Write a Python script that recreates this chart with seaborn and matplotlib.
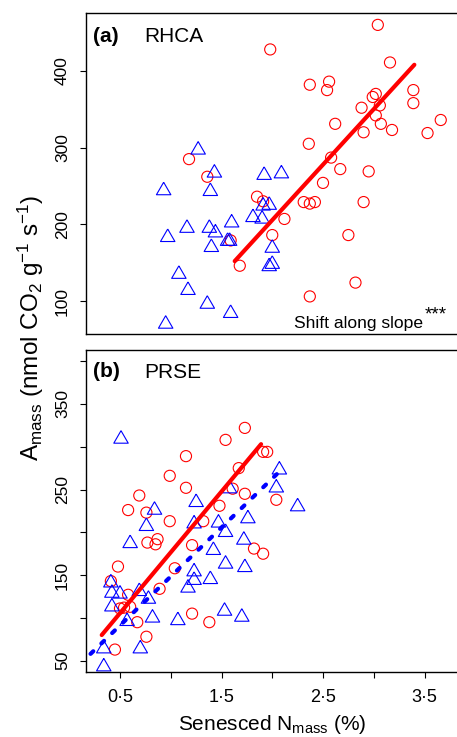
import matplotlib
matplotlib.use("Agg")
import matplotlib.pyplot as plt
import seaborn as sns
import pandas as pd

# (a) RHCA: red circles, blue triangles, fitted line for circles
rhca_circ_n = [3.04, 1.98, 3.16, 2.37, 2.56, 2.54, 3.39, 3.39, 3.02, 2.99,
               3.06, 2.88, 3.02, 2.62, 3.07, 2.90, 3.18, 3.53, 3.66, 2.36,
               1.18, 2.58, 2.67, 2.95, 2.50, 1.36, 1.85, 1.91, 2.31, 2.37,
               2.42, 2.90, 2.12, 2.00, 2.75, 1.59, 1.68, 2.82, 2.37]
rhca_circ_a = [460, 428, 411, 382, 386, 375, 375, 358, 370, 366,
               355, 352, 342, 331, 331, 320, 323, 319, 336, 305,
               285, 287, 272, 269, 254, 262, 236, 230, 229, 227,
               229, 229, 207, 186, 186, 179, 146, 124, 106]
rhca_tri_n = [1.27, 1.43, 1.92, 2.09, 0.93, 1.39, 1.97, 1.91, 1.81, 1.90,
              1.16, 1.38, 1.44, 1.60, 0.97, 1.56, 1.58, 1.40, 2.00, 2.00,
              1.97, 1.08, 1.17, 1.36, 1.59, 0.95]
rhca_tri_a = [297, 267, 264, 266, 244, 243, 225, 224, 209, 207,
              195, 195, 189, 202, 183, 178, 178, 170, 169, 148,
              145, 135, 114, 96, 84, 70]
rhca_fit_n = [1.63, 3.40]
rhca_fit_a = [152, 408]

# (b) PRSE
prse_circ_n = [1.73, 1.54, 1.15, 0.99, 1.15, 0.69, 0.58, 0.76, 0.99, 1.67,
               1.91, 1.95, 1.61, 1.73, 2.04, 1.48, 1.32, 0.77, 0.87, 0.85,
               1.21, 1.82, 1.91, 0.48, 1.04, 0.41, 0.89, 0.58, 0.50, 0.54,
               0.60, 0.67, 1.21, 1.38, 0.76, 0.45]
prse_circ_a = [322, 308, 289, 266, 252, 243, 226, 223, 213, 275,
               294, 294, 251, 245, 238, 231, 213, 188, 192, 186,
               185, 181, 175, 160, 158, 143, 134, 127, 111, 112,
               113, 95, 105, 95, 78, 63]
prse_tri_n = [0.51, 2.07, 2.04, 2.25, 1.58, 1.25, 0.84, 0.76, 1.76, 1.47,
              1.23, 1.54, 1.72, 0.60, 1.42, 1.54, 1.73, 1.23, 1.23, 1.39,
              1.17, 0.41, 0.42, 0.50, 0.69, 0.78, 0.42, 0.57, 0.82, 1.07,
              1.53, 1.70, 0.34, 0.70, 0.34]
prse_tri_a = [309, 273, 252, 230, 251, 235, 226, 207, 216, 211,
              210, 200, 191, 187, 179, 163, 159, 154, 144, 145,
              135, 141, 129, 128, 131, 122, 113, 96, 100, 97,
              108, 101, 64, 64, 43]
prse_fit_circ_n = [0.32, 1.89]
prse_fit_circ_a = [80, 303]
prse_fit_tri_n = [0.21, 2.08]
prse_fit_tri_a = [58, 272]

x_ticks = [0.5, 1.0, 1.5, 2.0, 2.5, 3.0, 3.5]
x_tick_labels = ["0·5", "", "1·5", "", "2·5", "", "3·5"]
a_ticks = [100, 200, 300, 400]
b_ticks = [50, 100, 150, 200, 250, 300, 350, 400]
b_tick_labels = ["50", "", "150", "", "250", "", "350", ""]

sns.set_style("white")
plt.rcParams["font.family"] = ["Liberation Sans", "DejaVu Sans"]
plt.rcParams["mathtext.fontset"] = "custom"
plt.rcParams["mathtext.rm"] = "Liberation Sans"
plt.rcParams["mathtext.it"] = "Liberation Sans:italic"
plt.rcParams["mathtext.bf"] = "Liberation Sans:bold"
plt.rcParams["text.color"] = "black"
plt.rcParams["xtick.color"] = "black"
plt.rcParams["ytick.color"] = "black"
plt.rcParams["axes.labelcolor"] = "black"

RED = "#ff0000"
BLUE = "#0000ff"
# R pch=2 style triangle, centred on its centroid
tri = [(0, 1.555), (1.347, -0.778), (-1.347, -0.778), (0, 1.555)]

fig = plt.figure(figsize=(4.57, 7.37), dpi=100, facecolor="white")
W, H = 457, 737
ax_a = fig.add_axes([86 / W, 1 - 334 / H, 380 / W, 321 / H])
ax_b = fig.add_axes([86 / W, 1 - 672 / H, 380 / W, 322 / H])


def draw_points(ax, cn, ca, tn, ta):
    sns.scatterplot(x=cn, y=ca, ax=ax, marker="o", s=8.0 ** 2,
                    facecolor="none", edgecolor=RED, linewidth=0.8,
                    clip_on=False)
    sns.scatterplot(x=tn, y=ta, ax=ax, marker=tri, s=12.0 ** 2,
                    facecolor="none", edgecolor=BLUE, linewidth=0.8,
                    clip_on=False)


draw_points(ax_a, rhca_circ_n, rhca_circ_a, rhca_tri_n, rhca_tri_a)
sns.lineplot(x=rhca_fit_n, y=rhca_fit_a, ax=ax_a, color=RED, lw=3,
             estimator=None, sort=False)

draw_points(ax_b, prse_circ_n, prse_circ_a, prse_tri_n, prse_tri_a)
sns.lineplot(x=prse_fit_circ_n, y=prse_fit_circ_a, ax=ax_b, color=RED, lw=3,
             estimator=None, sort=False)
# dashed fit for the triangles (short rounded dashes)
ax_b.plot(prse_fit_tri_n, prse_fit_tri_a, color=BLUE, lw=3.0,
          linestyle=(0, (0.9, 2.7)), dash_capstyle="round")

xmax = 0.5 + (466 - 120) / 101.5
for ax in (ax_a, ax_b):
    ax.set_xlim(0.165, xmax)
    ax.set_xlabel("")
    ax.set_ylabel("")
    for side in ("left", "top", "bottom", "right"):
        ax.spines[side].set_color("black")
        ax.spines[side].set_linewidth(1.0)
    ax.tick_params(axis="y", direction="out", length=4.5, width=0.8,
                   labelsize=12.5, pad=7, labelrotation=90, left=True,
                   colors="black")
    ax.set_xticks(x_ticks)

ax_a.set_ylim(57, 475.5)
ax_a.set_yticks(a_ticks)
ax_a.tick_params(axis="x", bottom=False, labelbottom=False)

ax_b.set_ylim(36.8, 413)
ax_b.set_yticks(b_ticks)
ax_b.set_yticklabels(b_tick_labels)
ax_b.set_xticklabels(x_tick_labels)
ax_b.tick_params(axis="x", direction="out", length=4.5, width=0.8,
                 labelsize=13, pad=8, bottom=True, colors="black")
for lab in ax_a.get_yticklabels() + ax_b.get_yticklabels():
    lab.set_va("center")

# panel titles
ax_a.text(93 / W, 1 - 36 / H, "(a)", transform=fig.transFigure,
          fontsize=15, fontweight="bold", va="center", ha="left")
ax_a.text(144 / W, 1 - 36 / H, "RHCA", transform=fig.transFigure,
          fontsize=15, va="center", ha="left")
ax_b.text(93 / W, 1 - 371 / H, "(b)", transform=fig.transFigure,
          fontsize=15, fontweight="bold", va="center", ha="left")
ax_b.text(144 / W, 1 - 372 / H, "PRSE", transform=fig.transFigure,
          fontsize=15, va="center", ha="left")

ax_a.text(294 / W, 1 - 328 / H, "Shift along slope", transform=fig.transFigure,
          fontsize=12.6, va="baseline", ha="left")
ax_a.text(425 / W, 1 - 319 / H, "***", transform=fig.transFigure,
          fontsize=13.5, va="baseline", ha="left")

fig.text(272 / W, 1 - 724 / H, r"Senesced N$_{\mathrm{mass}}$ (%)",
         fontsize=15, ha="center", va="center")
fig.text(31 / W, 1 - 328 / H,
         r"A$_{\mathrm{mass}}$ (nmol CO$_2$ g$^{-1}$ s$^{-1}$)",
         fontsize=17.5, ha="center", va="center", rotation=90)

fig.savefig("out.png", dpi=100, facecolor="white")
